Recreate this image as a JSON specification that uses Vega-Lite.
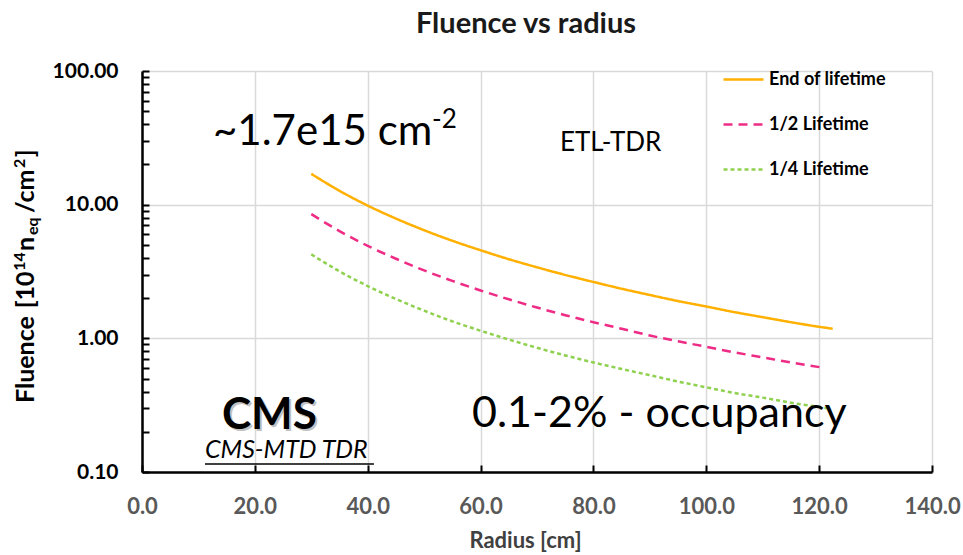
{
  "$schema": "https://vega.github.io/schema/vega-lite/v6.json",
  "width": 790,
  "height": 401,
  "autosize": {"type": "none"},
  "padding": {"left": 142, "top": 71, "right": 31, "bottom": 83},
  "background": "white",
  "config": {
    "font": "Lato",
    "view": {"stroke": null},
    "axis": {
      "domainColor": "#000000",
      "domainWidth": 2.5,
      "tickColor": "#000000",
      "tickWidth": 2,
      "gridColor": "#D9D9D9",
      "gridWidth": 1.5,
      "labelFlush": false
    }
  },
  "title": {
    "text": "Fluence vs radius",
    "fontSize": 29,
    "fontWeight": "bold",
    "color": "#1a1a1a",
    "anchor": "middle",
    "dx": -11,
    "offset": 19
  },
  "layer": [
    {
      "data": {
        "values": [
          {"r": 30, "f": 17.0, "s": "End of lifetime"},
          {"r": 35, "f": 12.7, "s": "End of lifetime"},
          {"r": 40, "f": 9.84, "s": "End of lifetime"},
          {"r": 45, "f": 7.87, "s": "End of lifetime"},
          {"r": 50, "f": 6.44, "s": "End of lifetime"},
          {"r": 55, "f": 5.37, "s": "End of lifetime"},
          {"r": 60, "f": 4.56, "s": "End of lifetime"},
          {"r": 65, "f": 3.91, "s": "End of lifetime"},
          {"r": 70, "f": 3.40, "s": "End of lifetime"},
          {"r": 75, "f": 2.98, "s": "End of lifetime"},
          {"r": 80, "f": 2.64, "s": "End of lifetime"},
          {"r": 85, "f": 2.35, "s": "End of lifetime"},
          {"r": 90, "f": 2.11, "s": "End of lifetime"},
          {"r": 95, "f": 1.90, "s": "End of lifetime"},
          {"r": 100, "f": 1.73, "s": "End of lifetime"},
          {"r": 105, "f": 1.57, "s": "End of lifetime"},
          {"r": 110, "f": 1.44, "s": "End of lifetime"},
          {"r": 115, "f": 1.32, "s": "End of lifetime"},
          {"r": 120, "f": 1.22, "s": "End of lifetime"},
          {"r": 122.4, "f": 1.18, "s": "End of lifetime"},
          {"r": 30, "f": 8.5, "s": "1/2 Lifetime"},
          {"r": 35, "f": 6.34, "s": "1/2 Lifetime"},
          {"r": 40, "f": 4.92, "s": "1/2 Lifetime"},
          {"r": 45, "f": 3.94, "s": "1/2 Lifetime"},
          {"r": 50, "f": 3.22, "s": "1/2 Lifetime"},
          {"r": 55, "f": 2.69, "s": "1/2 Lifetime"},
          {"r": 60, "f": 2.28, "s": "1/2 Lifetime"},
          {"r": 65, "f": 1.96, "s": "1/2 Lifetime"},
          {"r": 70, "f": 1.70, "s": "1/2 Lifetime"},
          {"r": 75, "f": 1.49, "s": "1/2 Lifetime"},
          {"r": 80, "f": 1.32, "s": "1/2 Lifetime"},
          {"r": 85, "f": 1.18, "s": "1/2 Lifetime"},
          {"r": 90, "f": 1.05, "s": "1/2 Lifetime"},
          {"r": 95, "f": 0.95, "s": "1/2 Lifetime"},
          {"r": 100, "f": 0.865, "s": "1/2 Lifetime"},
          {"r": 105, "f": 0.785, "s": "1/2 Lifetime"},
          {"r": 110, "f": 0.72, "s": "1/2 Lifetime"},
          {"r": 115, "f": 0.66, "s": "1/2 Lifetime"},
          {"r": 121, "f": 0.60, "s": "1/2 Lifetime"},
          {"r": 30, "f": 4.25, "s": "1/4 Lifetime"},
          {"r": 35, "f": 3.17, "s": "1/4 Lifetime"},
          {"r": 40, "f": 2.46, "s": "1/4 Lifetime"},
          {"r": 45, "f": 1.97, "s": "1/4 Lifetime"},
          {"r": 50, "f": 1.61, "s": "1/4 Lifetime"},
          {"r": 55, "f": 1.34, "s": "1/4 Lifetime"},
          {"r": 60, "f": 1.14, "s": "1/4 Lifetime"},
          {"r": 65, "f": 0.98, "s": "1/4 Lifetime"},
          {"r": 70, "f": 0.85, "s": "1/4 Lifetime"},
          {"r": 75, "f": 0.745, "s": "1/4 Lifetime"},
          {"r": 80, "f": 0.66, "s": "1/4 Lifetime"},
          {"r": 85, "f": 0.59, "s": "1/4 Lifetime"},
          {"r": 90, "f": 0.53, "s": "1/4 Lifetime"},
          {"r": 95, "f": 0.475, "s": "1/4 Lifetime"},
          {"r": 100, "f": 0.43, "s": "1/4 Lifetime"},
          {"r": 105, "f": 0.39, "s": "1/4 Lifetime"},
          {"r": 110, "f": 0.36, "s": "1/4 Lifetime"},
          {"r": 115, "f": 0.33, "s": "1/4 Lifetime"},
          {"r": 121.5, "f": 0.30, "s": "1/4 Lifetime"}
        ]
      },
      "mark": {"type": "line", "strokeWidth": 2.5, "interpolate": "monotone"},
      "encoding": {
        "x": {
          "field": "r",
          "type": "quantitative",
          "scale": {"domain": [0, 140], "nice": false, "zero": false},
          "axis": {
            "title": "Radius [cm]",
            "values": [0, 20, 40, 60, 80, 100, 120, 140],
            "format": ".1f",
            "labelColor": "#595959",
            "labelFontWeight": "bold",
            "labelFontSize": 22,
            "labelPadding": 31,
            "tickSize": -7,
            "titleFontSize": 22,
            "titleFontWeight": "bold",
            "titleColor": "#404040",
            "titleX": 383,
            "titleY": 68,
            "titleBaseline": "middle"
          }
        },
        "y": {
          "field": "f",
          "type": "quantitative",
          "scale": {"type": "log", "domain": [0.1, 100], "nice": false},
          "axis": {
            "title": null,
            "values": [0.1, 0.2, 0.3, 0.4, 0.5, 0.6, 0.7, 0.8, 0.9, 1, 2, 3, 4, 5, 6, 7, 8, 9, 10, 20, 30, 40, 50, 60, 70, 80, 90, 100],
            "labelExpr": "abs(log(datum.value) / LN10 - round(log(datum.value) / LN10)) < 1e-6 ? format(datum.value, '.2f') : ''",
            "gridOpacity": {
              "condition": {"test": "abs(log(datum.value) / LN10 - round(log(datum.value) / LN10)) < 1e-6", "value": 1},
              "value": 0
            },
            "labelColor": "#000000",
            "labelFontWeight": "bold",
            "labelFontSize": 21,
            "labelPadding": 31,
            "tickSize": -7
          }
        },
        "color": {
          "field": "s",
          "type": "nominal",
          "scale": {
            "domain": ["End of lifetime", "1/2 Lifetime", "1/4 Lifetime"],
            "range": ["#FFB000", "#EE2C86", "#8FD14F"]
          },
          "legend": {
            "title": null,
            "orient": "none",
            "legendX": 580,
            "legendY": -13,
            "padding": 0,
            "symbolType": "stroke",
            "symbolSize": 1600,
            "symbolStrokeWidth": 2.5,
            "labelFontSize": 18,
            "labelFontWeight": "bold",
            "labelColor": "#000000",
            "labelOffset": 4,
            "rowPadding": 14
          }
        },
        "strokeDash": {
          "field": "s",
          "type": "nominal",
          "scale": {
            "domain": ["End of lifetime", "1/2 Lifetime", "1/4 Lifetime"],
            "range": [[1, 0], [9, 6], [4, 3]]
          },
          "legend": {
            "title": null,
            "orient": "none",
            "legendX": 580,
            "legendY": -13,
            "padding": 0,
            "symbolType": "stroke",
            "symbolSize": 1600,
            "symbolStrokeWidth": 2.5,
            "labelFontSize": 18,
            "labelFontWeight": "bold",
            "labelColor": "#000000",
            "labelOffset": 4,
            "rowPadding": 14
          }
        }
      }
    },
    {
      "data": {"values": [{"label": "Fluence"}]},
      "mark": {"type": "text", "angle": 270, "align": "left", "baseline": "alphabetic", "fontSize": 25, "fontWeight": "bold", "color": "#000000"},
      "encoding": {"x": {"datum": -19.14}, "y": {"datum": 0.3283}, "text": {"field": "label"}}
    },
    {
      "data": {"values": [{"label": "[10"}]},
      "mark": {"type": "text", "angle": 270, "align": "left", "baseline": "alphabetic", "fontSize": 25, "fontWeight": "bold", "color": "#000000"},
      "encoding": {"x": {"datum": -19.14}, "y": {"datum": 1.68}, "text": {"field": "label"}}
    },
    {
      "data": {"values": [{"label": "14"}]},
      "mark": {"type": "text", "angle": 270, "align": "left", "baseline": "alphabetic", "fontSize": 16, "fontWeight": "bold", "color": "#000000", "dy": -9},
      "encoding": {"x": {"datum": -19.14}, "y": {"datum": 3.2}, "text": {"field": "label"}}
    },
    {
      "data": {"values": [{"label": "n"}]},
      "mark": {"type": "text", "angle": 270, "align": "left", "baseline": "alphabetic", "fontSize": 25, "fontWeight": "bold", "color": "#000000"},
      "encoding": {"x": {"datum": -19.14}, "y": {"datum": 4.502}, "text": {"field": "label"}}
    },
    {
      "data": {"values": [{"label": "eq"}]},
      "mark": {"type": "text", "angle": 270, "align": "left", "baseline": "alphabetic", "fontSize": 16, "fontWeight": "bold", "color": "#000000", "dy": 4},
      "encoding": {"x": {"datum": -19.14}, "y": {"datum": 5.932}, "text": {"field": "label"}}
    },
    {
      "data": {"values": [{"label": "/cm"}]},
      "mark": {"type": "text", "angle": 270, "align": "left", "baseline": "alphabetic", "fontSize": 25, "fontWeight": "bold", "color": "#000000"},
      "encoding": {"x": {"datum": -19.14}, "y": {"datum": 8.664}, "text": {"field": "label"}}
    },
    {
      "data": {"values": [{"label": "2"}]},
      "mark": {"type": "text", "angle": 270, "align": "left", "baseline": "alphabetic", "fontSize": 16, "fontWeight": "bold", "color": "#000000", "dy": -9},
      "encoding": {"x": {"datum": -19.14}, "y": {"datum": 18.81}, "text": {"field": "label"}}
    },
    {
      "data": {"values": [{"label": "]"}]},
      "mark": {"type": "text", "angle": 270, "align": "left", "baseline": "alphabetic", "fontSize": 25, "fontWeight": "bold", "color": "#000000"},
      "encoding": {"x": {"datum": -19.14}, "y": {"datum": 22.6}, "text": {"field": "label"}}
    },
    {
      "data": {"values": [{"label": "~1.7e15 cm"}]},
      "mark": {"type": "text", "align": "left", "baseline": "alphabetic", "fontSize": 42, "color": "#000000"},
      "encoding": {"x": {"datum": 12.58}, "y": {"datum": 27.95}, "text": {"field": "label"}}
    },
    {
      "data": {"values": [{"label": "-2"}]},
      "mark": {"type": "text", "align": "left", "baseline": "alphabetic", "fontSize": 26, "color": "#000000"},
      "encoding": {"x": {"datum": 51.4}, "y": {"datum": 37.5}, "text": {"field": "label"}}
    },
    {
      "data": {"values": [{"label": "ETL-TDR"}]},
      "mark": {"type": "text", "align": "left", "baseline": "alphabetic", "fontSize": 26, "color": "#000000"},
      "encoding": {"x": {"datum": 74.07}, "y": {"datum": 25.2}, "text": {"field": "label"}}
    },
    {
      "data": {"values": [{"label": "CMS"}]},
      "mark": {"type": "text", "align": "left", "baseline": "alphabetic", "fontSize": 44, "fontWeight": "bold", "color": "#9a9a9a", "opacity": 0.6, "dx": 2, "dy": 2},
      "encoding": {"x": {"datum": 14.18}, "y": {"datum": 0.21}, "text": {"field": "label"}}
    },
    {
      "data": {"values": [{"label": "CMS"}]},
      "mark": {"type": "text", "align": "left", "baseline": "alphabetic", "fontSize": 44, "fontWeight": "bold", "color": "#000000"},
      "encoding": {"x": {"datum": 14.18}, "y": {"datum": 0.21}, "text": {"field": "label"}}
    },
    {
      "data": {"values": [{"label": "CMS-MTD TDR"}]},
      "mark": {"type": "text", "align": "left", "baseline": "alphabetic", "fontSize": 25, "fontStyle": "italic", "color": "#000000"},
      "encoding": {"x": {"datum": 11.16}, "y": {"datum": 0.127}, "text": {"field": "label"}}
    },
    {
      "data": {"values": [{}]},
      "mark": {"type": "rule", "color": "#000000", "strokeWidth": 1.5},
      "encoding": {"x": {"datum": 11.16}, "x2": {"datum": 41.1}, "y": {"datum": 0.1148}}
    },
    {
      "data": {"values": [{"label": "0.1-2% - occupancy"}]},
      "mark": {"type": "text", "align": "left", "baseline": "alphabetic", "fontSize": 43, "color": "#000000"},
      "encoding": {"x": {"datum": 58.48}, "y": {"datum": 0.217}, "text": {"field": "label"}}
    }
  ]
}
